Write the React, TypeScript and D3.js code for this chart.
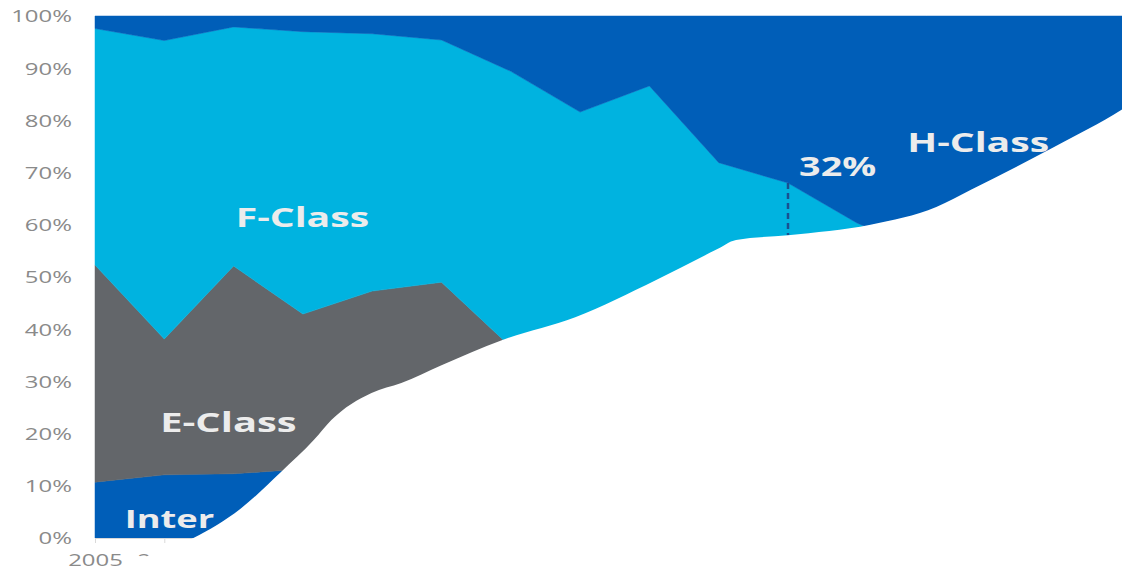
import React, { useEffect, useRef } from 'react';
import * as d3 from 'd3';

const years = [2005, 2006, 2007, 2008, 2009, 2010, 2011, 2012, 2013, 2014, 2015, 2016, 2017, 2018, 2019, 2020];
const interShare = [10.7, 12.1, 12.3, 13.2, 12.5, 12.0, 11.0, 10.0, 9.0, 8.0, 7.0, 6.0, 5.0, 4.0, 3.0, 2.0];
const eClassShare = [41.6, 26.0, 39.8, 29.7, 34.8, 37.0, 25.6, 23.0, 21.0, 19.0, 17.0, 15.0, 13.0, 11.0, 9.0, 7.0];
const fClassShare = [45.3, 57.2, 45.8, 54.1, 49.3, 46.4, 52.8, 48.6, 56.6, 44.9, 44.0, 39.3, 37.0, 35.0, 33.0, 31.0];
const hClassShare = [2.4, 4.7, 2.1, 3.0, 3.4, 4.6, 10.6, 18.4, 13.4, 28.1, 32.0, 39.7, 45.0, 50.0, 55.0, 60.0];
// white cover shape: its top edge (year position, percent)
const coverYears = [2005.3, 2005.7, 2006.42, 2007.1, 2007.68, 2008.16, 2008.41, 2008.99, 2009.42, 2010.0, 2010.87, 2011.93, 2013.09, 2013.96, 2014.25, 2015.0, 2016.19, 2017.14, 2017.64, 2018.84, 2019.88, 2020.2];
const coverTop = [-6.7, -3.8, 0, 5.6, 12.6, 18.8, 22.6, 27.8, 29.7, 33.1, 37.9, 42.3, 49.4, 55.2, 57.1, 58.0, 60.0, 63.4, 66.7, 74.9, 82.6, 85.5];
const yTicks = [0, 10, 20, 30, 40, 50, 60, 70, 80, 90, 100];
const seriesKeys = ['Inter', 'E-Class', 'F-Class', 'H-Class'];
const seriesColors = ['#005EB8', '#63666A', '#00B3E0', '#005EB8'];
const highlightYear = 2015;

const W = 1122;
const H = 573;

export default function App() {
  const ref = useRef<SVGSVGElement | null>(null);

  useEffect(() => {
    const svg = d3.select(ref.current);
    svg.selectAll('*').remove();

    const x = d3.scaleLinear().domain([2005, 2020]).range([95, 1134.5]);
    const y = d3.scaleLinear().domain([0, 100]).range([538, 16]);
    const sx = 1.45;

    const table = years.map((yr, i) => ({
      year: yr,
      'Inter': interShare[i],
      'E-Class': eClassShare[i],
      'F-Class': fClassShare[i],
      'H-Class': hClassShare[i],
    }));
    const stacked = d3.stack<any>().keys(seriesKeys)(table);

    const area = d3
      .area<any>()
      .x((d) => x(d.data.year))
      .y0((d) => y(d[0]))
      .y1((d) => y(d[1]))
      .curve(d3.curveLinear);

    svg
      .append('g')
      .selectAll('path')
      .data(stacked)
      .join('path')
      .attr('d', area as any)
      .attr('fill', (_d, i) => seriesColors[i])
      .attr('stroke', (_d, i) => seriesColors[i])
      .attr('stroke-width', 0.5);

    // y axis
    const yAxis = svg
      .append('g')
      .attr('transform', `translate(95,0)`)
      .call(
        d3
          .axisLeft(y)
          .tickValues(yTicks)
          .tickSize(0)
          .tickFormat((d) => `${d}%`)
      );
    yAxis.select('.domain').remove();
    yAxis
      .selectAll('text')
      .attr('x', 0)
      .attr('dy', '0.36em')
      .attr('transform', `translate(-23,0) scale(${sx},1)`)
      .attr('fill', '#8a8a8a')
      .attr('font-family', '"Open Sans", sans-serif')
      .attr('font-size', 16.5);

    // x axis (only ticks that fit inside the picture)
    const visibleYears = years.filter((yr) => x(yr) < W - 40);
    const xAxis = svg
      .append('g')
      .attr('transform', `translate(0,538)`)
      .call(
        d3
          .axisBottom(x)
          .tickValues(visibleYears)
          .tickSize(5)
          .tickSizeOuter(0)
          .tickFormat(d3.format('d') as any)
      );
    xAxis.select('.domain').attr('stroke', '#d9d9d9');
    xAxis.selectAll('line').attr('stroke', '#d9d9d9');
    xAxis
      .selectAll('text')
      .attr('y', 0)
      .attr('dy', 0)
      .attr('transform', `translate(0,28) scale(${sx},1)`)
      .attr('fill', '#8a8a8a')
      .attr('font-family', '"Open Sans", sans-serif')
      .attr('font-size', 16.5);

    // labels
    const labels = [
      { text: 'F-Class', yr: 2007.03, v: 59.6, size: 27 },
      { text: 'E-Class', yr: 2005.94, v: 20.3, size: 27.5 },
      { text: 'H-Class', yr: 2016.72, v: 73.9, size: 27 },
      { text: '32%', yr: 2015.16, v: 69.3, size: 26 },
      { text: 'Inter', yr: 2005.43, v: 1.9, size: 25 },
    ];
    svg
      .append('g')
      .selectAll('text')
      .data(labels)
      .join('text')
      .attr('transform', (d) => `translate(${x(d.yr)},${y(d.v)}) scale(${sx},1)`)
      .attr('fill', '#ececec')
      .attr('font-family', '"Open Sans", sans-serif')
      .attr('font-weight', 700)
      .attr('font-size', (d) => d.size)
      .text((d) => d.text);

    // dashed marker
    const hi = years.indexOf(highlightYear);
    const ci = coverYears.indexOf(highlightYear);
    const topVal = interShare[hi] + eClassShare[hi] + fClassShare[hi];
    svg
      .append('line')
      .attr('x1', x(highlightYear))
      .attr('x2', x(highlightYear))
      .attr('y1', y(topVal))
      .attr('y2', y(coverTop[ci]))
      .attr('stroke', '#1a4f90')
      .attr('stroke-width', 2.5)
      .attr('stroke-dasharray', '6,4');

    // white cover
    const cover = d3
      .area<number>()
      .x((_d, i) => x(coverYears[i]))
      .y0(H + 10)
      .y1((d) => y(d))
      .curve(d3.curveMonotoneX);
    svg.append('path').attr('d', cover(coverTop) as string).attr('fill', '#ffffff');
  }, []);

  return (
    <svg
      ref={ref}
      width={W}
      height={H}
      style={{ position: 'absolute', left: 0, top: 0, background: '#ffffff' }}
    />
  );
}
